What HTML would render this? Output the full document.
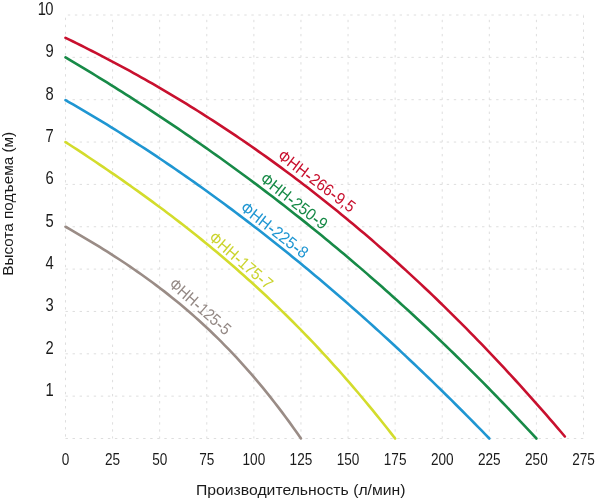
<!DOCTYPE html>
<html><head><meta charset="utf-8"><style>
html,body{margin:0;padding:0;background:#fff;}
body{width:600px;height:499px;overflow:hidden;}
svg{display:block;will-change:transform;}
text{font-family:"Liberation Sans",sans-serif;}
.gv{stroke:#dedede;stroke-width:1;stroke-dasharray:2.4 4.66;stroke-dashoffset:6.56;}
.gh{stroke:#dedede;stroke-width:1;stroke-dasharray:2.4 4.66;stroke-dashoffset:0;}
.yl{font-size:18px;fill:#1a1a1a;text-anchor:end;}
.xl{font-size:17px;fill:#1a1a1a;text-anchor:middle;}
.cv{fill:none;stroke-width:2.6;stroke-linecap:round;stroke-linejoin:round;}
.cl{font-size:16.5px;}
.at{font-size:15.5px;fill:#1a1a1a;}
</style></head><body>
<svg width="600" height="499" viewBox="0 0 600 499">
<g><line x1="65.50" y1="15" x2="65.50" y2="438.5" class="gv" style="stroke-dashoffset:4.36"/><line x1="112.59" y1="15" x2="112.59" y2="438.5" class="gv" style="stroke-dashoffset:2.26"/><line x1="159.68" y1="15" x2="159.68" y2="438.5" class="gv" style="stroke-dashoffset:2.26"/><line x1="206.77" y1="15" x2="206.77" y2="438.5" class="gv" style="stroke-dashoffset:2.26"/><line x1="253.86" y1="15" x2="253.86" y2="438.5" class="gv" style="stroke-dashoffset:2.26"/><line x1="300.95" y1="15" x2="300.95" y2="438.5" class="gv" style="stroke-dashoffset:2.26"/><line x1="348.04" y1="15" x2="348.04" y2="438.5" class="gv" style="stroke-dashoffset:2.26"/><line x1="395.13" y1="15" x2="395.13" y2="438.5" class="gv" style="stroke-dashoffset:2.26"/><line x1="442.22" y1="15" x2="442.22" y2="438.5" class="gv" style="stroke-dashoffset:2.26"/><line x1="489.31" y1="15" x2="489.31" y2="438.5" class="gv" style="stroke-dashoffset:2.26"/><line x1="536.40" y1="15" x2="536.40" y2="438.5" class="gv" style="stroke-dashoffset:2.26"/><line x1="583.49" y1="15" x2="583.49" y2="438.5" class="gv" style="stroke-dashoffset:6.66"/><line x1="65.5" y1="15.00" x2="583.49" y2="15.00" class="gh" style="stroke-dashoffset:4.76"/><line x1="65.5" y1="57.35" x2="583.49" y2="57.35" class="gh"/><line x1="65.5" y1="99.70" x2="583.49" y2="99.70" class="gh"/><line x1="65.5" y1="142.05" x2="583.49" y2="142.05" class="gh"/><line x1="65.5" y1="184.40" x2="583.49" y2="184.40" class="gh"/><line x1="65.5" y1="226.75" x2="583.49" y2="226.75" class="gh"/><line x1="65.5" y1="269.10" x2="583.49" y2="269.10" class="gh"/><line x1="65.5" y1="311.45" x2="583.49" y2="311.45" class="gh"/><line x1="65.5" y1="353.80" x2="583.49" y2="353.80" class="gh"/><line x1="65.5" y1="396.15" x2="583.49" y2="396.15" class="gh"/><line x1="65.5" y1="438.50" x2="583.49" y2="438.50" class="gh"/></g>
<g><text transform="translate(53.60,396.15) scale(0.82,1)" class="yl">1</text><text transform="translate(53.60,353.80) scale(0.82,1)" class="yl">2</text><text transform="translate(53.60,311.45) scale(0.82,1)" class="yl">3</text><text transform="translate(53.60,269.10) scale(0.82,1)" class="yl">4</text><text transform="translate(53.60,226.75) scale(0.82,1)" class="yl">5</text><text transform="translate(53.60,184.40) scale(0.82,1)" class="yl">6</text><text transform="translate(53.60,142.05) scale(0.82,1)" class="yl">7</text><text transform="translate(53.60,99.70) scale(0.82,1)" class="yl">8</text><text transform="translate(53.60,57.35) scale(0.82,1)" class="yl">9</text><text transform="translate(52.90,15.00) scale(0.82,1)" class="yl" letter-spacing="-0.8">10</text></g>
<g><text transform="translate(65.50,464.7) scale(0.8,1)" class="xl">0</text><text transform="translate(112.59,464.7) scale(0.8,1)" class="xl">25</text><text transform="translate(159.68,464.7) scale(0.8,1)" class="xl">50</text><text transform="translate(206.77,464.7) scale(0.8,1)" class="xl">75</text><text transform="translate(253.86,464.7) scale(0.8,1)" class="xl">100</text><text transform="translate(300.95,464.7) scale(0.8,1)" class="xl">125</text><text transform="translate(348.04,464.7) scale(0.8,1)" class="xl">150</text><text transform="translate(395.13,464.7) scale(0.8,1)" class="xl">175</text><text transform="translate(442.22,464.7) scale(0.8,1)" class="xl">200</text><text transform="translate(489.31,464.7) scale(0.8,1)" class="xl">225</text><text transform="translate(536.40,464.7) scale(0.8,1)" class="xl">250</text><text transform="translate(583.49,464.7) scale(0.8,1)" class="xl">275</text></g>
<g><polyline points="65.50,226.75 69.30,228.93 73.10,231.12 76.89,233.33 80.69,235.56 84.49,237.80 88.29,240.07 92.08,242.35 95.88,244.66 99.68,246.98 103.48,249.34 107.27,251.72 111.07,254.12 114.87,256.56 118.67,259.02 122.46,261.52 126.26,264.04 130.06,266.61 133.86,269.20 137.65,271.84 141.45,274.51 145.25,277.22 149.05,279.97 152.84,282.76 156.64,285.60 160.44,288.48 164.24,291.40 168.03,294.38 171.83,297.40 175.63,300.47 179.43,303.59 183.23,306.77 187.02,310.00 190.82,313.28 194.62,316.62 198.42,320.02 202.21,323.48 206.01,327.00 209.81,330.57 213.61,334.22 217.40,337.93 221.20,341.70 225.00,345.54 228.80,349.45 232.59,353.43 236.39,357.48 240.19,361.60 243.99,365.79 247.78,370.07 251.58,374.41 255.38,378.84 259.18,383.34 262.97,387.93 266.77,392.60 270.57,397.35 274.37,402.18 278.16,407.10 281.96,412.11 285.76,417.20 289.56,422.39 293.35,427.67 297.15,433.04 300.95,438.50" stroke="#9a8c86" class="cv"/><polyline points="65.50,142.05 69.29,144.51 73.08,146.98 76.87,149.46 80.66,151.95 84.44,154.45 88.23,156.97 92.02,159.49 95.81,162.03 99.60,164.58 103.39,167.14 107.18,169.72 110.97,172.31 114.76,174.92 118.54,177.54 122.33,180.18 126.12,182.83 129.91,185.50 133.70,188.19 137.49,190.89 141.28,193.61 145.07,196.35 148.85,199.10 152.64,201.88 156.43,204.68 160.22,207.49 164.01,210.33 167.80,213.18 171.59,216.06 175.38,218.96 179.17,221.88 182.95,224.82 186.74,227.78 190.53,230.77 194.32,233.78 198.11,236.82 201.90,239.88 205.69,242.97 209.48,246.08 213.27,249.21 217.05,252.37 220.84,255.56 224.63,258.78 228.42,262.02 232.21,265.30 236.00,268.60 239.79,271.92 243.58,275.28 247.36,278.67 251.15,282.09 254.94,285.54 258.73,289.02 262.52,292.53 266.31,296.07 270.10,299.64 273.89,303.25 277.68,306.89 281.46,310.56 285.25,314.27 289.04,318.01 292.83,321.79 296.62,325.60 300.41,329.45 304.20,333.33 307.99,337.26 311.78,341.21 315.56,345.21 319.35,349.24 323.14,353.31 326.93,357.42 330.72,361.57 334.51,365.76 338.30,369.99 342.09,374.25 345.87,378.56 349.66,382.91 353.45,387.31 357.24,391.74 361.03,396.22 364.82,400.74 368.61,405.30 372.40,409.91 376.19,414.56 379.97,419.26 383.76,424.00 387.55,428.79 391.34,433.62 395.13,438.50" stroke="#d3dc2c" class="cv"/><polyline points="65.50,100.12 69.28,102.29 73.07,104.46 76.85,106.65 80.64,108.86 84.42,111.08 88.20,113.32 91.99,115.57 95.77,117.84 99.56,120.12 103.34,122.42 107.12,124.73 110.91,127.06 114.69,129.41 118.48,131.77 122.26,134.14 126.04,136.53 129.83,138.93 133.61,141.35 137.40,143.79 141.18,146.24 144.96,148.70 148.75,151.19 152.53,153.68 156.32,156.19 160.10,158.72 163.88,161.26 167.67,163.82 171.45,166.39 175.24,168.98 179.02,171.58 182.80,174.20 186.59,176.84 190.37,179.49 194.16,182.15 197.94,184.84 201.72,187.53 205.51,190.24 209.29,192.97 213.08,195.71 216.86,198.47 220.64,201.25 224.43,204.03 228.21,206.84 232.00,209.66 235.78,212.50 239.56,215.35 243.35,218.21 247.13,221.10 250.92,224.00 254.70,226.91 258.48,229.84 262.27,232.78 266.05,235.74 269.84,238.72 273.62,241.71 277.41,244.72 281.19,247.74 284.97,250.78 288.76,253.84 292.54,256.91 296.33,259.99 300.11,263.10 303.89,266.21 307.68,269.35 311.46,272.50 315.25,275.66 319.03,278.84 322.81,282.04 326.60,285.25 330.38,288.48 334.17,291.72 337.95,294.98 341.73,298.26 345.52,301.55 349.30,304.86 353.09,308.18 356.87,311.52 360.65,314.88 364.44,318.25 368.22,321.64 372.01,325.04 375.79,328.46 379.57,331.89 383.36,335.34 387.14,338.81 390.93,342.29 394.71,345.79 398.49,349.31 402.28,352.84 406.06,356.39 409.85,359.95 413.63,363.53 417.41,367.12 421.20,370.73 424.98,374.36 428.77,378.00 432.55,381.66 436.33,385.34 440.12,389.03 443.90,392.74 447.69,396.46 451.47,400.20 455.25,403.96 459.04,407.73 462.82,411.52 466.61,415.33 470.39,419.15 474.17,422.99 477.96,426.84 481.74,430.71 485.53,434.60 489.31,438.50" stroke="#1f96d2" class="cv"/><polyline points="65.50,57.35 69.27,59.58 73.03,61.83 76.80,64.08 80.57,66.35 84.34,68.62 88.10,70.90 91.87,73.20 95.64,75.50 99.40,77.81 103.17,80.14 106.94,82.47 110.71,84.82 114.47,87.18 118.24,89.54 122.01,91.92 125.78,94.31 129.54,96.71 133.31,99.12 137.08,101.54 140.84,103.97 144.61,106.42 148.38,108.87 152.15,111.34 155.91,113.82 159.68,116.31 163.45,118.81 167.21,121.32 170.98,123.85 174.75,126.39 178.52,128.94 182.28,131.50 186.05,134.07 189.82,136.66 193.58,139.26 197.35,141.87 201.12,144.49 204.89,147.13 208.65,149.78 212.42,152.44 216.19,155.11 219.96,157.80 223.72,160.50 227.49,163.21 231.26,165.94 235.02,168.68 238.79,171.43 242.56,174.20 246.33,176.98 250.09,179.78 253.86,182.59 257.63,185.41 261.39,188.24 265.16,191.09 268.93,193.96 272.70,196.84 276.46,199.73 280.23,202.63 284.00,205.56 287.76,208.49 291.53,211.44 295.30,214.41 299.07,217.39 302.83,220.38 306.60,223.39 310.37,226.41 314.14,229.45 317.90,232.51 321.67,235.58 325.44,238.66 329.20,241.76 332.97,244.88 336.74,248.01 340.51,251.16 344.27,254.32 348.04,257.50 351.81,260.69 355.57,263.91 359.34,267.13 363.11,270.38 366.88,273.63 370.64,276.91 374.41,280.20 378.18,283.51 381.94,286.84 385.71,290.18 389.48,293.54 393.25,296.91 397.01,300.30 400.78,303.71 404.55,307.14 408.32,310.58 412.08,314.05 415.85,317.52 419.62,321.02 423.38,324.53 427.15,328.06 430.92,331.61 434.69,335.18 438.45,338.76 442.22,342.37 445.99,345.99 449.75,349.62 453.52,353.28 457.29,356.96 461.06,360.65 464.82,364.36 468.59,368.09 472.36,371.84 476.12,375.61 479.89,379.39 483.66,383.20 487.43,387.02 491.19,390.87 494.96,394.73 498.73,398.61 502.50,402.51 506.26,406.43 510.03,410.37 513.80,414.33 517.56,418.31 521.33,422.31 525.10,426.32 528.87,430.36 532.63,434.42 536.40,438.50" stroke="#178a47" class="cv"/><polyline points="65.50,37.87 69.28,39.69 73.07,41.54 76.85,43.40 80.63,45.27 84.41,47.16 88.20,49.06 91.98,50.97 95.76,52.91 99.55,54.85 103.33,56.81 107.11,58.79 110.89,60.78 114.68,62.79 118.46,64.81 122.24,66.85 126.03,68.91 129.81,70.98 133.59,73.06 137.38,75.16 141.16,77.28 144.94,79.41 148.72,81.56 152.51,83.73 156.29,85.91 160.07,88.11 163.86,90.32 167.64,92.56 171.42,94.80 175.20,97.07 178.99,99.35 182.77,101.65 186.55,103.97 190.34,106.30 194.12,108.65 197.90,111.02 201.68,113.40 205.47,115.80 209.25,118.22 213.03,120.66 216.82,123.11 220.60,125.59 224.38,128.08 228.16,130.59 231.95,133.11 235.73,135.66 239.51,138.22 243.30,140.80 247.08,143.40 250.86,146.02 254.64,148.66 258.43,151.31 262.21,153.99 265.99,156.68 269.78,159.39 273.56,162.12 277.34,164.87 281.13,167.64 284.91,170.43 288.69,173.24 292.47,176.07 296.26,178.92 300.04,181.78 303.82,184.67 307.61,187.57 311.39,190.50 315.17,193.45 318.95,196.41 322.74,199.40 326.52,202.41 330.30,205.43 334.09,208.48 337.87,211.55 341.65,214.64 345.43,217.75 349.22,220.88 353.00,224.03 356.78,227.20 360.57,230.39 364.35,233.61 368.13,236.84 371.91,240.10 375.70,243.38 379.48,246.68 383.26,250.00 387.05,253.34 390.83,256.70 394.61,260.09 398.39,263.50 402.18,266.93 405.96,270.38 409.74,273.86 413.53,277.35 417.31,280.87 421.09,284.41 424.88,287.98 428.66,291.56 432.44,295.17 436.22,298.81 440.01,302.46 443.79,306.14 447.57,309.84 451.36,313.56 455.14,317.31 458.92,321.08 462.70,324.88 466.49,328.69 470.27,332.54 474.05,336.40 477.84,340.29 481.62,344.20 485.40,348.14 489.18,352.10 492.97,356.08 496.75,360.09 500.53,364.13 504.32,368.18 508.10,372.26 511.88,376.37 515.66,380.50 519.45,384.66 523.23,388.84 527.01,393.04 530.80,397.27 534.58,401.53 538.36,405.81 542.14,410.12 545.93,414.45 549.71,418.81 553.49,423.19 557.28,427.60 561.06,432.03 564.84,436.49" stroke="#c8102e" class="cv"/></g>
<g><text transform="translate(276.56,157.93) rotate(36.8)" fill="#c8102e" class="cl" textLength="92" lengthAdjust="spacingAndGlyphs">ФНН<tspan font-size="20" dy="1.2">-</tspan><tspan dy="-1.2">266<tspan font-size="20" dy="1.2">-</tspan><tspan dy="-1.2">9,5</tspan></tspan></text><text transform="translate(258.93,180.75) rotate(38)" fill="#178a47" class="cl" textLength="80.5" lengthAdjust="spacingAndGlyphs">ФНН<tspan font-size="20" dy="1.2">-</tspan><tspan dy="-1.2">250<tspan font-size="20" dy="1.2">-</tspan><tspan dy="-1.2">9</tspan></tspan></text><text transform="translate(239.32,209.78) rotate(37.7)" fill="#1f96d2" class="cl" textLength="80.5" lengthAdjust="spacingAndGlyphs">ФНН<tspan font-size="20" dy="1.2">-</tspan><tspan dy="-1.2">225<tspan font-size="20" dy="1.2">-</tspan><tspan dy="-1.2">8</tspan></tspan></text><text transform="translate(207.8,239.3) rotate(40.7)" fill="#cbd42e" class="cl" textLength="78" lengthAdjust="spacingAndGlyphs">ФНН<tspan font-size="20" dy="1.2">-</tspan><tspan dy="-1.2">175<tspan font-size="20" dy="1.2">-</tspan><tspan dy="-1.2">7</tspan></tspan></text><text transform="translate(168.03,285.67) rotate(41.3)" fill="#948985" class="cl" textLength="76" lengthAdjust="spacingAndGlyphs">ФНН<tspan font-size="20" dy="1.2">-</tspan><tspan dy="-1.2">125<tspan font-size="20" dy="1.2">-</tspan><tspan dy="-1.2">5</tspan></tspan></text></g>
<text x="196" y="495" class="at" textLength="209.5" lengthAdjust="spacingAndGlyphs">Производительность (л/мин)</text>
<text transform="translate(13.4,275.8) rotate(-90)" class="at" textLength="144" lengthAdjust="spacingAndGlyphs">Высота подъема (м)</text>
</svg>
</body></html>
